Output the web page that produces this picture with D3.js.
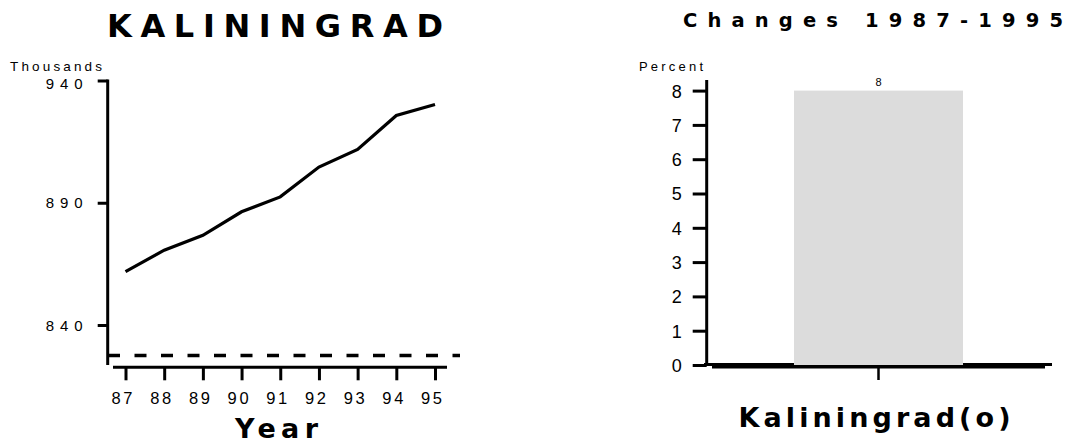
<!DOCTYPE html>
<html>
<head>
<meta charset="utf-8">
<script src="https://cdn.jsdelivr.net/npm/d3@7"></script>
<style>
  html, body { margin: 0; padding: 0; background: #fff; }
  svg { display: block; font-family: "Liberation Sans", Arial, sans-serif; }
</style>
</head>
<body>
<svg id="chart" width="1072" height="446"></svg>
<script>
// Population of Kaliningrad oblast, thousands
const years = ["87", "88", "89", "90", "91", "92", "93", "94", "95"];
const population = [861.8, 870.6, 876.7, 886.3, 892.4, 904.6, 911.8, 925.7, 930.2];
const popTicks = [840, 890, 940];
const popFloor = [827.5];

// Change over the period, percent
const regions = ["Kaliningrad(o)"];
const changePct = [8];
const pctTicks = [0, 1, 2, 3, 4, 5, 6, 7, 8];

const svg = d3.select("#chart");
const ink = "#000";
const heavy = "'DejaVu Sans', 'Liberation Sans', Arial, sans-serif";
const plain = "'Liberation Sans', Arial, sans-serif";

function spacedText(g, str, x, y, size, weight, len, family) {
  return g.append("text")
    .attr("x", x).attr("y", y)
    .attr("font-size", size)
    .attr("font-weight", weight)
    .attr("font-family", family || plain)
    .attr("textLength", len)
    .attr("lengthAdjust", "spacing")
    .attr("fill", ink)
    .text(str);
}

// ---------- Left panel: population line ----------
const left = svg.append("g");
const x = d3.scalePoint().domain(years).range([125.5, 435]);
const y = d3.scaleLinear().domain([840, 940]).range([325, 80.5]);

spacedText(left, "KALININGRAD", 107, 37, 32, "bold", 336, heavy);
spacedText(left, "Thousands", 10, 71, 13.5, "normal", 92);

// y axis
const yAxis = left.append("g")
  .attr("transform", "translate(107.7,0)")
  .call(d3.axisLeft(y).tickValues(popTicks).tickSize(10).tickPadding(15).tickSizeOuter(0));
yAxis.select(".domain").remove();
yAxis.selectAll(".tick line").attr("stroke", ink).attr("stroke-width", 3);
yAxis.selectAll(".tick text")
  .attr("font-size", 15)
  .attr("font-family", plain)
  .attr("fill", ink)
  .attr("dy", d => d === 940 ? "0.55em" : "0.34em")
  .attr("textLength", 37)
  .attr("lengthAdjust", "spacing");
left.append("line")
  .attr("x1", 107.7).attr("x2", 107.7)
  .attr("y1", 79.5).attr("y2", 365)
  .attr("stroke", ink).attr("stroke-width", 3);

// x axis
const xAxis = left.append("g")
  .attr("transform", "translate(0,367.3)")
  .call(d3.axisBottom(x).tickSize(13).tickPadding(11.6).tickSizeOuter(0));
xAxis.select(".domain").remove();
xAxis.selectAll(".tick line").attr("stroke", ink).attr("stroke-width", 3);
xAxis.selectAll(".tick text")
  .attr("font-size", 16.5)
  .attr("font-family", plain)
  .attr("fill", ink)
  .attr("dx", -4)
  .attr("textLength", 21)
  .attr("lengthAdjust", "spacing");
left.append("line")
  .attr("x1", 113).attr("x2", 447)
  .attr("y1", 367.3).attr("y2", 367.3)
  .attr("stroke", ink).attr("stroke-width", 3);

spacedText(left, "Year", 235, 438, 27, "bold", 83, heavy);

// dashed floor line
left.selectAll("line.floor").data(popFloor).enter().append("line")
  .attr("class", "floor")
  .attr("x1", 108).attr("x2", 460)
  .attr("y1", d => y(d)).attr("y2", d => y(d))
  .attr("stroke", ink).attr("stroke-width", 3.5)
  .attr("stroke-dasharray", "12,14.5");

// population line
left.append("path")
  .datum(population)
  .attr("fill", "none")
  .attr("stroke", ink)
  .attr("stroke-width", 3.2)
  .attr("stroke-linejoin", "miter")
  .attr("d", d3.line().x((d, i) => x(years[i])).y(d => y(d)));

// ---------- Right panel: percent change bar ----------
const right = svg.append("g");
const xb = d3.scaleBand().domain(regions).range([712, 1045]).paddingInner(0).paddingOuter(0.485);
const yb = d3.scaleLinear().domain([0, 8]).range([365, 90.6]);

spacedText(right, "Changes 1987-1995", 683, 27, 19.5, "bold", 380, heavy);
spacedText(right, "Percent", 639, 71, 13, "normal", 64);

const ybAxis = right.append("g")
  .attr("transform", "translate(706.7,0)")
  .call(d3.axisLeft(yb).tickValues(pctTicks).tickSize(14).tickPadding(11).tickSizeOuter(0));
ybAxis.select(".domain").remove();
ybAxis.selectAll(".tick line").attr("stroke", ink).attr("stroke-width", 3);
ybAxis.selectAll(".tick text")
  .attr("font-size", 18)
  .attr("font-family", plain)
  .attr("fill", ink)
  .attr("dy", "0.36em");
right.append("line")
  .attr("x1", 706.7).attr("x2", 706.7)
  .attr("y1", 80).attr("y2", 366)
  .attr("stroke", ink).attr("stroke-width", 3);

// zero line and category axis
right.append("line")
  .attr("x1", 704).attr("x2", 1052)
  .attr("y1", yb(0) - 0.5).attr("y2", yb(0) - 0.5)
  .attr("stroke", ink).attr("stroke-width", 3);
right.append("line")
  .attr("x1", 712).attr("x2", 1045)
  .attr("y1", 367).attr("y2", 367)
  .attr("stroke", ink).attr("stroke-width", 3);

const xbAxis = right.append("g")
  .attr("transform", "translate(0,367)")
  .call(d3.axisBottom(xb).tickSize(13).tickSizeOuter(0).tickFormat(""));
xbAxis.select(".domain").remove();
xbAxis.selectAll(".tick line").attr("stroke", ink).attr("stroke-width", 2.5);

right.selectAll("rect.bar").data(changePct).enter().append("rect")
  .attr("class", "bar")
  .attr("x", (d, i) => xb(regions[i]))
  .attr("width", xb.bandwidth())
  .attr("y", d => yb(d))
  .attr("height", d => yb(0) - yb(d))
  .attr("fill", "#dcdcdc");

right.selectAll("text.val").data(changePct).enter().append("text")
  .attr("class", "val")
  .attr("x", (d, i) => xb(regions[i]) + xb.bandwidth() / 2)
  .attr("y", d => yb(d) - 4.5)
  .attr("text-anchor", "middle")
  .attr("font-size", 11)
  .attr("fill", ink)
  .text(d => d3.format("d")(d));

regions.forEach(r => {
  spacedText(right, r, xb(r) + xb.bandwidth() / 2 - 140, 427, 27, "bold", 272, heavy);
});
</script>
</body>
</html>
